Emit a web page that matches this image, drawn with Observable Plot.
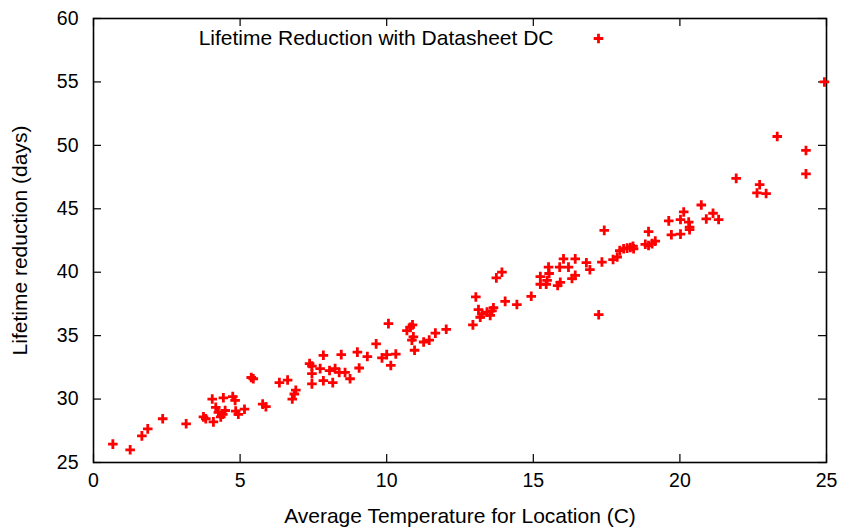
<!DOCTYPE html>
<html>
<head>
<meta charset="utf-8">
<script src="https://cdn.jsdelivr.net/npm/d3@7"></script>
<script src="https://cdn.jsdelivr.net/npm/@observablehq/plot@0.6"></script>
<style>
  html, body { margin: 0; padding: 0; background: #fff; }
  svg { font-family: "Liberation Sans", Arial, Helvetica, sans-serif; }
</style>
</head>
<body>
<div id="chart"></div>
<script>
const temperature = [
  0.66, 1.25, 1.65, 1.85, 2.36, 3.16, 3.75, 3.83, 4.05, 4.09, 4.17, 4.26, 4.34, 4.43, 4.49, 4.41,
  4.75, 4.83, 4.85, 4.94, 5.15, 5.38, 5.45, 5.77, 5.88, 6.34, 6.62, 6.78, 6.85, 6.9,
  7.37, 7.45, 7.45, 7.45, 7.84, 7.73, 7.84, 8.05, 8.16, 8.24, 8.45, 8.38, 8.58, 8.75,
  9.0, 9.06, 9.34, 9.64, 9.84, 10.0, 10.06, 10.14, 10.31, 10.69, 10.8, 10.88, 10.91, 10.86, 10.95,
  11.26, 11.45, 11.66, 12.03, 12.94,
  13.04, 13.13, 13.25, 13.19, 13.42, 13.59, 13.53, 13.64, 13.74, 13.93, 14.04, 14.44, 14.93,
  15.24, 15.24, 15.44, 15.47, 15.52, 15.54, 15.83, 15.92, 15.9, 16.03, 16.2, 16.32, 16.43, 16.43,
  16.81, 16.93, 17.23, 17.34, 17.42,
  17.72, 17.86, 17.95, 18.08, 18.2, 18.31, 18.42, 18.4,
  18.82, 18.93, 19.05, 19.16, 18.93, 19.62, 19.71, 20.02, 20.02, 20.13, 20.3, 20.33, 20.33,
  20.73, 20.9, 21.13, 21.32, 21.92, 22.63, 22.72, 22.94, 23.32, 24.3, 24.3, 24.93
];
const reduction = [
  26.45, 26.0, 27.1, 27.65, 28.45, 28.05, 28.6, 28.45, 30.0, 28.2, 29.35, 28.95, 28.6, 30.1, 29.1, 28.8,
  30.2, 29.9, 29.05, 28.8, 29.2, 31.7, 31.6, 29.6, 29.4, 31.3, 31.5, 30.0, 30.4, 30.7,
  32.8, 32.6, 32.0, 31.2, 33.45, 32.4, 31.45, 32.25, 31.3, 32.4, 33.5, 32.1, 32.1, 31.6,
  33.7, 32.45, 33.35, 34.35, 33.25, 33.5, 35.95, 32.65, 33.55, 35.4, 35.65, 35.85, 34.9, 34.65, 33.85,
  34.5, 34.65, 35.2, 35.5, 35.85,
  38.05, 37.05, 36.7, 36.45, 36.85, 36.95, 36.6, 37.2, 39.55, 40.0, 37.7, 37.45, 38.1,
  39.65, 39.05, 39.05, 39.35, 40.4, 39.9, 38.95, 39.2, 40.4, 41.05, 40.4, 39.5, 39.75, 41.05,
  40.75, 40.2, 36.65, 40.8, 43.3,
  41.0, 41.2, 41.7, 41.85, 41.9, 41.95, 41.85, 42.05,
  42.2, 42.1, 42.25, 42.45, 43.2, 44.05, 42.95, 43.0, 44.15, 44.75, 43.95, 43.55, 43.35,
  45.3, 44.2, 44.65, 44.15, 47.4, 46.25, 46.9, 46.2, 50.7, 49.6, 47.75, 55.0
];
const xTicks = [0, 5, 10, 15, 20, 25];
const yTicks = [25, 30, 35, 40, 45, 50, 55, 60];
const xLabel = "Average Temperature for Location (C)";
const yLabel = "Lifetime reduction (days)";
const legendLabel = "Lifetime Reduction with Datasheet DC";

const points = temperature.map((t, i) => ({t, r: reduction[i]}));

// gnuplot-style "+" marker drawn with strokes
const plusSymbol = {
  draw(context, size) {
    const r = Math.sqrt(size / Math.PI);
    context.moveTo(-r, 0); context.lineTo(r, 0);
    context.moveTo(0, -r); context.lineTo(0, r);
  }
};

const W = 843, H = 531;
const mL = 93, mR = 17, mT = 18, mB = 69;
const innerW = W - mL - mR, innerH = H - mT - mB;
const tickLen = 8;

const chart = Plot.plot({
  width: W,
  height: H,
  marginLeft: mL,
  marginRight: mR,
  marginTop: mT,
  marginBottom: mB,
  style: {fontFamily: '"Liberation Sans", Arial, Helvetica, sans-serif', color: "#000", background: "#fff"},
  x: {domain: [0, 25]},
  y: {domain: [25, 60]},
  marks: [
    // inward ticks, bottom and top
    Plot.tickX(xTicks, {x: d => d, insetTop: innerH - tickLen, stroke: "black", strokeWidth: 1.2}),
    Plot.tickX(xTicks, {x: d => d, insetBottom: innerH - tickLen, stroke: "black", strokeWidth: 1.2}),
    // inward ticks, left and right
    Plot.tickY(yTicks, {y: d => d, insetRight: innerW - tickLen, stroke: "black", strokeWidth: 1.2}),
    Plot.tickY(yTicks, {y: d => d, insetLeft: innerW - tickLen, stroke: "black", strokeWidth: 1.2}),
    Plot.axisX({ticks: xTicks, tickSize: 0, tickPadding: 11, fontSize: 19.5, label: null}),
    Plot.axisY({ticks: yTicks, tickSize: 0, tickPadding: 15, fontSize: 19.5, label: null}),
    Plot.frame({stroke: "black", strokeWidth: 1.6}),
    Plot.dot(points, {x: "t", y: "r", symbol: plusSymbol, r: 4.8, stroke: "#ff0000", strokeWidth: 2.8, fill: "none"}),
    // axis titles
    Plot.text([xLabel], {text: d => d, frameAnchor: "bottom", lineAnchor: "bottom", dy: 60, fontSize: 21, fill: "black"}),
    Plot.text([yLabel], {text: d => d, frameAnchor: "left", rotate: -90, textAnchor: "middle", lineAnchor: "middle", dx: -73, fontSize: 21, fill: "black"}),
    // legend
    Plot.text([legendLabel], {text: d => d, frameAnchor: "top-left", textAnchor: "end", lineAnchor: "bottom", dx: 460, dy: 26, fontSize: 21, fill: "black"}),
    Plot.dot([legendLabel], {frameAnchor: "top-left", dx: 505, dy: 20, symbol: plusSymbol, r: 4.8, stroke: "#ff0000", strokeWidth: 2.8, fill: "none"})
  ]
});
document.getElementById("chart").appendChild(chart);
</script>
</body>
</html>
